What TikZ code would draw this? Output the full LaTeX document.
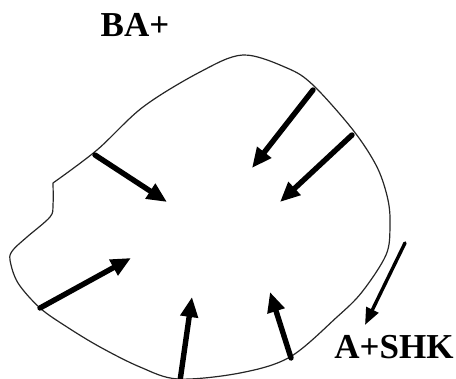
\documentclass[tikz,border=0pt]{standalone}
\usepackage{fontspec}
\setmainfont{Liberation Serif}
\usetikzlibrary{arrows.meta}

\begin{document}
\begin{tikzpicture}[
  x=1pt, y=-1pt,
  line cap=round, line join=round,
  rim/.style  = {draw=black!85, line width=1.2pt},
  flux/.style = {draw=black, line width=5.4pt,
                 -{Triangle[length=20pt, width=17pt]}},
  leak/.style = {draw=black, line width=3.4pt,
                 -{Triangle[length=17pt, width=13pt]}},
  lbl/.style  = {font=\fontsize{35}{40}\selectfont\bfseries, inner sep=0pt,
                 anchor=base}
]
\useasboundingbox (0,0) rectangle (456,379);

% contour of the body
\draw[rim] plot[smooth, tension=0.55] coordinates {
  (53,183) (97,150) (143,107) (200,72) (243,55) (287,68) (313,85)
  (353,130) (377,167) (388,200) (390,227) (386,255) (362,292)
  (337,317) (290,357) (240,373) (178,379) (140,367) (100,347)
  (67,327) (40,308) (18,283) (10,260) (13,250) (27,237) (50,217)
  (53,205) (53,183)};

% arrow ends
\coordinate (a1s) at (313,90);  \coordinate (a1e) at (252,168);
\coordinate (a2s) at (352,135); \coordinate (a2e) at (280,202);
\coordinate (a3s) at (95,155);  \coordinate (a3e) at (167,202);
\coordinate (a4s) at (40,308);  \coordinate (a4e) at (131,258);
\coordinate (a5s) at (180,381); \coordinate (a5e) at (192,297);
\coordinate (a6s) at (291,358); \coordinate (a6e) at (270,292);
\coordinate (a7s) at (405,243); \coordinate (a7e) at (365,325);

% inward arrows
\draw[flux] (a1s) -- (a1e);
\draw[flux] (a2s) -- (a2e);
\draw[flux] (a3s) -- (a3e);
\draw[flux] (a4s) -- (a4e);
\draw[flux] (a5s) -- (a5e);
\draw[flux] (a6s) -- (a6e);
% outgoing
\draw[leak] (a7s) -- (a7e);

% labels
\node[lbl] (ba)  at (135,37)  {BA+};
\node[lbl] (shk) at (394,359) {A+SHK};

\end{tikzpicture}
\end{document}
